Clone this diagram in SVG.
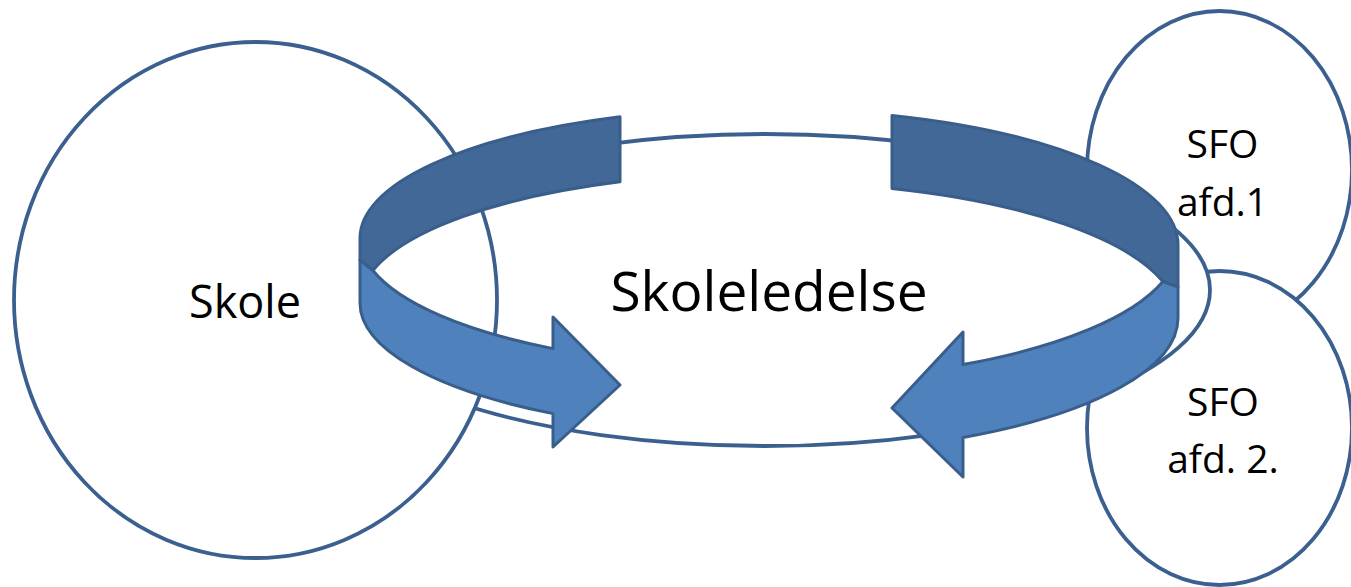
<svg xmlns="http://www.w3.org/2000/svg" width="1351" height="587" viewBox="0 0 1351 587">
<style>
.node{fill:#ffffff;stroke:#3b6090;stroke-width:3.8}
.lbl{font-family:"Open Sans","Liberation Sans",sans-serif;fill:#000000;text-anchor:middle}
.dark{fill:#416897;stroke:#3a5e8b;stroke-width:3;stroke-linejoin:round}
.light{fill:#4f81bd;stroke:#3a5e8b;stroke-width:3;stroke-linejoin:round}
</style>
<rect width="1351" height="587" fill="#ffffff"/>
<g id="node-sfo1">
<ellipse class="node" cx="1219.5" cy="170" rx="132.5" ry="159"/>
</g>
<g id="node-sfo2">
<ellipse class="node" cx="1219.5" cy="428" rx="132.5" ry="157"/>
</g>
<g id="node-skoleledelse">
<ellipse class="node" cx="765" cy="290" rx="445" ry="156"/>
</g>
<g id="node-skole">
<ellipse class="node" cx="255.5" cy="300" rx="241.5" ry="258"/>
<text class="lbl" x="245" y="318" font-size="45">Skole</text>
</g>
<g id="connectors">
<g id="arrow-left">
<path class="dark" d="M 620 116.8 A 407 130 0 0 0 360 238 L 360 260 L 372.9 270.5 A 407 130 0 0 1 620 181.8 Z"/>
<path class="light" d="M 360 260 L 360 303 A 407 130 0 0 0 553 413.6 L 553 447 L 620 385 L 553 317 L 553 348.6 A 407 130 0 0 1 372.9 270.5 Z"/>
</g>
<g id="arrow-right">
<path class="dark" d="M 892 115.4 A 411 136 0 0 1 1178 245 L 1178 287 L 1162.9 281.5 A 411 136 0 0 0 892 188.4 Z"/>
<path class="light" d="M 1178 287 L 1178 318 A 411 136 0 0 1 963 437.5 L 963 477 L 892 408 L 963 332 L 963 364.5 A 411 136 0 0 0 1162.9 281.5 Z"/>
</g>
</g>
<text class="lbl" x="769" y="311" font-size="55">Skoleledelse</text>
<text class="lbl" x="1222.5" y="158" font-size="39">SFO</text>
<text class="lbl" x="1222.5" y="216" font-size="39">afd.1</text>
<text class="lbl" x="1223" y="416" font-size="39">SFO</text>
<text class="lbl" x="1223" y="473" font-size="39">afd. 2.</text>
</svg>
